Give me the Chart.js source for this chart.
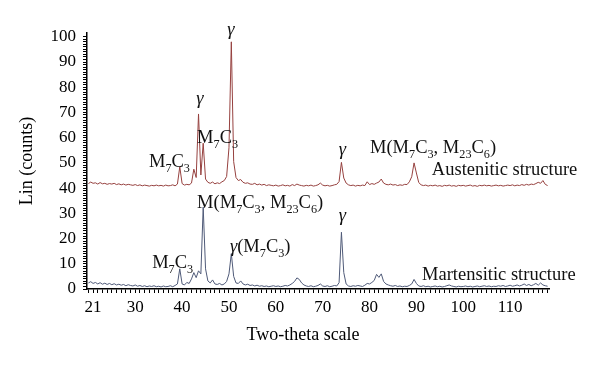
<!DOCTYPE html>
<html>
<head>
<meta charset="utf-8">
<script src="https://cdn.jsdelivr.net/npm/chart.js@4.4.1/dist/chart.umd.min.js"></script>
<style>
  body { margin: 0; background: #fff; }
  #wrap { width: 600px; height: 368px; }
</style>
</head>
<body>
<div id="wrap"><canvas id="xrdChart" width="600" height="368"></canvas></div>
<script>
// 2-theta scan positions (degrees)
const twoTheta = [
  20, 20.5, 21, 21.5, 22, 22.5, 23, 23.5, 24, 24.5,
  25, 25.5, 26, 26.5, 27, 27.5, 28, 28.5, 29, 29.5,
  30, 30.5, 31, 31.5, 32, 32.5, 33, 33.5, 34, 34.5,
  35, 35.5, 36, 36.5, 37, 37.5, 38, 38.5, 39, 39.5,
  40, 40.5, 41, 41.5, 42, 42.5, 43, 43.5, 44, 44.5,
  45, 45.5, 46, 46.5, 47, 47.5, 48, 48.5, 49, 49.5,
  50, 50.5, 51, 51.5, 52, 52.5, 53, 53.5, 54, 54.5,
  55, 55.5, 56, 56.5, 57, 57.5, 58, 58.5, 59, 59.5,
  60, 60.5, 61, 61.5, 62, 62.5, 63, 63.5, 64, 64.5,
  65, 65.5, 66, 66.5, 67, 67.5, 68, 68.5, 69, 69.5,
  70, 70.5, 71, 71.5, 72, 72.5, 73, 73.5, 74, 74.5,
  75, 75.5, 76, 76.5, 77, 77.5, 78, 78.5, 79, 79.5,
  80, 80.5, 81, 81.5, 82, 82.5, 83, 83.5, 84, 84.5,
  85, 85.5, 86, 86.5, 87, 87.5, 88, 88.5, 89, 89.5,
  90, 90.5, 91, 91.5, 92, 92.5, 93, 93.5, 94, 94.5,
  95, 95.5, 96, 96.5, 97, 97.5, 98, 98.5, 99, 99.5,
  100, 100.5, 101, 101.5, 102, 102.5, 103, 103.5, 104, 104.5,
  105, 105.5, 106, 106.5, 107, 107.5, 108, 108.5, 109, 109.5,
  110, 110.5, 111, 111.5, 112, 112.5, 113, 113.5, 114, 114.5,
  115, 115.5, 116, 116.5, 117, 117.5, 118
];

// austenitic pattern (shifted up by 40 counts, as in the figure)
const austenitic = [
  41.8, 42.4, 41.9, 42.1, 41.6, 42.2, 41.7, 41.9, 41.5, 41.8,
  41.6, 41.9, 41.4, 41.7, 41.3, 41.6, 41.2, 41.5, 41.3, 41.1,
  41.4, 41.0, 41.3, 40.9, 41.2, 41.0, 40.8, 41.1, 40.9, 41.2,
  40.9, 41.1, 40.8, 41.2, 40.9, 41.0, 41.3, 40.9, 41.6, 48.4,
  41.8, 41.2, 41.5, 41.3, 42.0, 47.5, 44.2, 69.4, 45.2, 57.8,
  43.6, 42.3, 41.9, 42.4, 41.7, 42.1, 41.8, 42.5, 43.0, 44.6,
  56.0, 98.0, 50.5, 44.2, 43.0, 43.4, 42.3, 41.9, 42.1, 41.6,
  41.5, 41.9, 41.3, 41.6, 41.2, 41.5, 41.0, 41.3, 41.1, 40.9,
  41.2, 40.8, 41.0, 41.3, 40.9, 41.1, 40.8, 41.4, 41.0, 41.6,
  41.2, 41.0, 40.8, 41.1, 40.9, 41.2, 40.8, 41.0, 41.3, 42.0,
  41.2, 40.9, 41.1, 40.8, 41.0, 41.3, 41.5, 42.6, 50.2, 44.0,
  42.0, 41.3, 41.0, 41.2, 40.8, 41.1, 40.9, 41.2, 41.0, 42.5,
  41.4, 41.8, 41.5, 42.0, 42.4, 43.6, 42.0, 41.5, 41.3, 41.6,
  41.2, 41.4, 41.0, 41.3, 41.1, 41.5, 41.4, 42.5, 44.5, 50.0,
  46.0, 42.2, 41.3, 41.0, 41.2, 40.8, 41.1, 40.9, 41.2, 40.8,
  41.0, 40.7, 41.1, 40.9, 41.2, 40.8, 41.0, 40.7, 41.1, 40.9,
  41.1, 40.8, 41.0, 41.2, 40.8, 41.0, 40.7, 41.1, 40.9, 41.2,
  40.9, 41.1, 40.8, 41.0, 41.2, 40.9, 41.1, 40.8, 41.0, 41.2,
  41.0, 41.3, 40.9, 41.2, 41.0, 41.4, 41.1, 41.5, 41.2, 41.6,
  41.4, 41.8, 42.3, 41.9, 43.0, 41.5, 41.0
];

// martensitic pattern
const martensitic = [
  2.4, 2.9, 2.2, 2.6, 2.0, 2.5, 1.9, 2.3, 1.8, 2.2,
  1.7, 2.1, 1.6, 1.9, 1.5, 1.8, 1.3, 1.7, 1.4, 1.2,
  1.6, 1.1, 1.4, 1.0, 1.3, 0.9, 1.2, 1.0, 1.3, 0.9,
  1.1, 0.8, 1.2, 0.9, 1.0, 1.3, 0.9, 1.4, 2.0, 8.0,
  2.0, 1.6, 2.6, 2.2, 4.0, 6.5, 4.5, 7.2, 6.0, 32.5,
  8.0, 3.2, 2.4, 3.6, 2.0, 1.8, 2.2, 1.6, 2.0, 3.0,
  6.0, 14.0, 5.0, 2.4, 2.2, 3.2, 2.0, 1.6, 1.9, 1.4,
  1.6, 1.2, 1.5, 1.1, 1.3, 1.0, 1.2, 0.9, 1.1, 1.3,
  1.0, 1.2, 0.9, 1.1, 1.4, 1.2, 1.6, 2.2, 3.0, 4.4,
  3.8, 2.4, 1.6, 1.2, 1.0, 1.3, 0.9, 1.1, 1.4, 2.0,
  1.2, 1.0, 1.3, 0.9, 1.1, 1.4, 1.2, 2.5, 22.5, 6.5,
  2.0, 1.2, 1.0, 1.3, 1.1, 1.4, 1.2, 1.0, 1.5, 2.2,
  2.0, 2.6, 3.4, 5.8, 4.6, 6.0, 3.0, 2.0, 1.6, 1.3,
  1.1, 1.4, 1.0, 1.2, 0.9, 1.1, 1.0, 1.4, 2.0, 3.8,
  2.2, 1.2, 1.0, 1.3, 0.9, 1.1, 0.8, 1.0, 1.2, 0.9,
  1.1, 0.8, 1.0, 1.3, 1.6, 1.2, 1.0, 0.8, 1.1, 0.9,
  1.0, 1.2, 0.9, 1.1, 0.8, 1.0, 1.2, 0.9, 1.1, 1.3,
  1.0, 1.2, 0.9, 1.1, 1.0, 1.3, 1.1, 1.4, 1.0, 1.2,
  1.5, 1.1, 1.3, 1.6, 1.2, 1.5, 2.0, 1.4, 1.8, 1.3,
  1.7, 2.2, 1.5, 2.4, 1.6, 1.3, 1.1
];

// labelled ticks
const xTickLabels = [21, 30, 40, 50, 60, 70, 80, 90, 100, 110];
const yTickLabels = [0, 10, 20, 30, 40, 50, 60, 70, 80, 90, 100];

// peak labels: _{..} = subscript, *..* = italic; x/y in data units, y = baseline
const peakLabels = [
  { text: "M_{7}C_{3}", x: 37.3, y: 48.4, align: "center" },
  { text: "*γ*", x: 43.8, y: 73.4, align: "center" },
  { text: "M_{7}C_{3}", x: 43.2, y: 57.9, align: "left" },
  { text: "*γ*", x: 50.4, y: 100.8, align: "center" },
  { text: "*γ*", x: 74.2, y: 53.2, align: "center" },
  { text: "M(M_{7}C_{3}, M_{23}C_{6})", x: 80.1, y: 54.0, align: "left" },
  { text: "Austenitic structure", x: 93.3, y: 45.2, align: "left" },
  { text: "M_{7}C_{3}", x: 33.6, y: 8.3, align: "left" },
  { text: "M(M_{7}C_{3}, M_{23}C_{6})", x: 43.2, y: 32.1, align: "left" },
  { text: "*γ*(M_{7}C_{3})", x: 50.2, y: 14.7, align: "left" },
  { text: "*γ*", x: 74.2, y: 27.0, align: "center" },
  { text: "Martensitic structure", x: 91.2, y: 3.6, align: "left" }
];

const SERIF = "'Liberation Serif', 'DejaVu Serif', serif";

const xMinor = [];
for (let t = 20; t <= 118; t++) xMinor.push(t);
const yMinor = [];
for (let c = 0; c <= 100; c++) yMinor.push(c);

function parseRich(str) {
  const parts = [];
  const re = /_\{([^}]*)\}|\*([^*]*)\*|([^_*]+)/g;
  let m;
  while ((m = re.exec(str))) {
    if (m[1] !== undefined) parts.push({ text: m[1], sub: true });
    else if (m[2] !== undefined) parts.push({ text: m[2], italic: true });
    else parts.push({ text: m[3] });
  }
  return parts;
}

function partFont(p, size) {
  const s = p.sub ? size * 0.66 : size;
  return (p.italic ? "italic " : "") + s + "px " + SERIF;
}

const labelPlugin = {
  id: "peakLabels",
  afterDraw(chart) {
    const ctx = chart.ctx;
    const xs = chart.scales.x;
    const ys = chart.scales.y;
    const size = 18.5;
    ctx.save();
    ctx.fillStyle = "#111";
    ctx.textBaseline = "alphabetic";
    ctx.textAlign = "left";
    peakLabels.forEach(l => {
      const parts = parseRich(l.text);
      let w = 0;
      parts.forEach(p => {
        ctx.font = partFont(p, size);
        p.w = ctx.measureText(p.text).width;
        w += p.w;
      });
      let px = xs.getPixelForValue(l.x);
      const py = ys.getPixelForValue(l.y);
      if (l.align === "center") px -= w / 2;
      parts.forEach(p => {
        ctx.font = partFont(p, size);
        ctx.fillText(p.text, px, py + (p.sub ? size * 0.28 : 0));
        px += p.w;
      });
    });
    // x axis title
    ctx.font = "18px " + SERIF;
    ctx.textAlign = "center";
    ctx.textBaseline = "middle";
    ctx.fillStyle = "#000";
    ctx.fillText("Two-theta scale", xs.getPixelForValue(65.8), 335);
    ctx.restore();
  }
};

const ctx = document.getElementById("xrdChart").getContext("2d");
new Chart(ctx, {
  type: "line",
  data: {
    datasets: [
      {
        label: "Austenitic structure",
        data: twoTheta.map((t, i) => ({ x: t, y: austenitic[i] })),
        borderColor: "#96413f",
        borderWidth: 1,
        pointRadius: 0,
        tension: 0
      },
      {
        label: "Martensitic structure",
        data: twoTheta.map((t, i) => ({ x: t, y: martensitic[i] })),
        borderColor: "#4f5a78",
        borderWidth: 1,
        pointRadius: 0,
        tension: 0
      }
    ]
  },
  options: {
    responsive: false,
    animation: false,
    layout: { padding: { top: 33, right: 51, bottom: 0, left: 0 } },
    plugins: {
      legend: { display: false },
      tooltip: { enabled: false }
    },
    scales: {
      x: {
        type: "linear",
        min: 19.7,
        max: 118.3,
        afterBuildTicks: s => { s.ticks = xMinor.map(v => ({ value: v })); },
        afterFit: s => { s.height = 79; },
        ticks: {
          autoSkip: false,
          maxRotation: 0,
          padding: 4,
          color: "#000",
          font: { family: SERIF, size: 17 },
          callback: v => xTickLabels.includes(v) ? String(v) : ""
        },
        grid: { drawOnChartArea: false, drawTicks: true, tickLength: 4, color: "#000", tickColor: "#000" },
        border: { display: true, color: "#000", width: 1.5 }
      },
      y: {
        min: 0,
        max: 101.5,
        afterBuildTicks: s => { s.ticks = yMinor.map(v => ({ value: v })); },
        afterFit: s => { s.width = 87; },
        ticks: {
          autoSkip: false,
          padding: 7,
          color: "#000",
          font: { family: SERIF, size: 17 },
          callback: v => yTickLabels.includes(v) ? String(v) : ""
        },
        grid: { drawOnChartArea: false, drawTicks: true, tickLength: 4, color: "#000", tickColor: "#000" },
        border: { display: true, color: "#000", width: 1.5 },
        title: {
          display: true,
          text: "Lin (counts)",
          color: "#000",
          font: { family: SERIF, size: 18 },
          padding: { top: 16, bottom: 0 }
        }
      }
    }
  },
  plugins: [labelPlugin]
});
</script>
</body>
</html>
